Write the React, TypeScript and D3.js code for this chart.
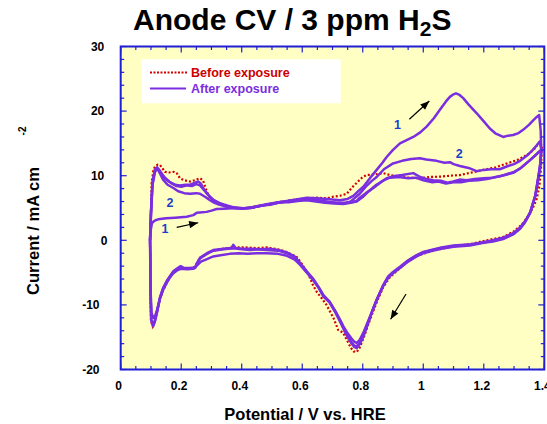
import React from "react";
import * as d3 from "d3";

type Pt = [number, number];

// Before exposure (red dotted)
const beforeAnodic: Pt[] = [[0.097,0],[0.1,4],[0.102,8.8],[0.108,10.8],[0.113,11.4],[0.122,11.7],[0.13,11.65],[0.14,11.0],[0.146,10.6],[0.16,10.5],[0.175,10.6],[0.185,10.4],[0.196,9.6],[0.21,9.3],[0.229,9.1],[0.245,9.3],[0.262,9.6],[0.272,9.3],[0.279,8.3],[0.29,6.9],[0.306,6.0],[0.32,5.6],[0.339,5.6],[0.361,5.2],[0.39,5.0],[0.42,5.0],[0.45,5.3],[0.48,5.5],[0.52,5.9],[0.55,6.1],[0.58,6.3],[0.615,6.5],[0.65,6.6],[0.68,6.5],[0.703,6.75],[0.725,6.9],[0.747,7.2],[0.765,8.2],[0.78,8.9],[0.8,9.8],[0.813,10.1],[0.84,10.2],[0.868,10.4],[0.89,10.1],[0.923,9.85],[0.95,9.7],[0.989,9.6],[1.02,9.8],[1.055,9.85],[1.09,10.0],[1.121,10.1],[1.16,10.5],[1.198,10.9],[1.24,11.3],[1.276,11.9],[1.31,12.4],[1.342,13.2],[1.365,14.0],[1.386,15.3],[1.392,14.5]];
const beforeCathodic: Pt[] = [[1.392,14.5],[1.389,11],[1.384,8.5],[1.375,6.4],[1.362,5.0],[1.345,3.6],[1.325,2.4],[1.3,1.4],[1.264,0.5],[1.21,0],[1.154,-0.6],[1.1,-0.9],[1.033,-1.6],[0.978,-2.4],[0.95,-3.1],[0.923,-4.3],[0.89,-5.7],[0.868,-7.2],[0.846,-9.6],[0.824,-12.3],[0.802,-15.2],[0.79,-16.6],[0.78,-17.3],[0.77,-17.2],[0.76,-16.6],[0.747,-15.4],[0.735,-14.3],[0.719,-13.9],[0.703,-12.0],[0.68,-10.0],[0.665,-9.0],[0.648,-8.0],[0.635,-6.9],[0.62,-5.2],[0.598,-3.6],[0.582,-2.6],[0.549,-1.8],[0.52,-1.4],[0.482,-1.1],[0.45,-1.2],[0.41,-1.1],[0.372,-1.1],[0.34,-1.3],[0.306,-1.6],[0.28,-2.2],[0.262,-2.7],[0.246,-4.1],[0.22,-4.4],[0.196,-4.3],[0.174,-4.9],[0.16,-5.9],[0.152,-6.6],[0.14,-7.8],[0.13,-9.0],[0.12,-11.0],[0.113,-12.4],[0.106,-13.3],[0.1,-12.5],[0.098,-8],[0.097,0]];

// After exposure (purple), anodic sweeps of cycles 1..4
const afterAnodic1: Pt[] = [[0.097,0],[0.099,1.5],[0.103,2.6],[0.108,2.9],[0.115,3.1],[0.124,3.25],[0.15,3.4],[0.18,3.5],[0.218,3.65],[0.24,3.9],[0.251,4.25],[0.262,4.3],[0.284,4.4],[0.3,4.6],[0.317,4.85],[0.34,4.9],[0.372,4.95],[0.4,4.95],[0.427,5.0],[0.455,5.3],[0.482,5.6],[0.52,5.9],[0.549,6.1],[0.58,6.3],[0.615,6.6],[0.65,6.5],[0.681,6.4],[0.7,6.3],[0.725,6.2],[0.75,6.4],[0.77,6.9],[0.785,7.6],[0.802,8.3],[0.825,9.7],[0.846,10.9],[0.865,12.0],[0.879,12.9],[0.9,14.0],[0.923,15.0],[0.945,15.5],[0.967,16.0],[0.99,16.7],[1.011,17.6],[1.035,18.9],[1.055,20.2],[1.075,21.5],[1.088,22.2],[1.1,22.6],[1.108,22.75],[1.12,22.5],[1.132,22.0],[1.15,21.0],[1.176,19.7],[1.2,18.4],[1.22,17.3],[1.24,16.5],[1.264,16.0],[1.28,16.2],[1.297,16.3],[1.315,16.6],[1.33,17.1],[1.35,17.9],[1.364,18.6],[1.375,19.1],[1.383,19.4],[1.388,17],[1.39,14]];
const afterAnodic2: Pt[] = [[0.097,0],[0.1,4],[0.105,8.5],[0.113,10.5],[0.12,11.2],[0.128,10.5],[0.14,9.4],[0.155,8.6],[0.174,8.1],[0.19,7.6],[0.21,7.3],[0.229,7.2],[0.25,7.3],[0.262,7.2],[0.28,6.7],[0.295,6.2],[0.31,5.8],[0.328,5.5],[0.35,5.2],[0.38,5.0],[0.41,4.95],[0.44,5.1],[0.482,5.5],[0.52,5.8],[0.549,6.0],[0.58,6.3],[0.61,6.4],[0.64,6.3],[0.681,6.0],[0.71,5.8],[0.74,5.7],[0.76,6.0],[0.775,6.6],[0.79,7.2],[0.81,8.3],[0.83,9.2],[0.846,9.8],[0.87,11.0],[0.9,11.9],[0.93,12.3],[0.96,12.6],[0.989,12.7],[1.01,12.5],[1.044,12.3],[1.07,12.0],[1.088,12.1],[1.1,11.8],[1.121,11.5],[1.15,11.2],[1.176,10.7],[1.2,10.9],[1.225,11.0],[1.253,11.0],[1.28,11.5],[1.3,11.8],[1.32,12.3],[1.345,13.2],[1.362,14.0],[1.375,14.7],[1.385,15.3],[1.39,14]];
const afterAnodic3: Pt[] = [[0.097,0],[0.1,4],[0.105,8.8],[0.113,10.8],[0.12,11.3],[0.126,11.0],[0.135,10.4],[0.146,9.7],[0.16,9.1],[0.18,8.6],[0.196,8.5],[0.215,8.6],[0.23,8.6],[0.24,8.8],[0.256,9.1],[0.265,8.8],[0.273,8.05],[0.285,7.3],[0.295,6.7],[0.31,6.1],[0.328,5.7],[0.35,5.3],[0.372,5.0],[0.4,4.9],[0.43,5.0],[0.46,5.3],[0.49,5.6],[0.52,5.8],[0.55,6.0],[0.58,6.2],[0.615,6.4],[0.65,6.1],[0.68,5.9],[0.71,5.8],[0.74,5.8],[0.76,5.9],[0.78,6.1],[0.79,6.6],[0.81,7.3],[0.835,8.1],[0.86,9.0],[0.879,9.6],[0.9,9.9],[0.93,10.1],[0.967,10.4],[0.99,9.8],[1.01,9.5],[1.033,9.3],[1.06,9.2],[1.08,8.9],[1.099,9.1],[1.12,9.4],[1.143,9.3],[1.17,9.5],[1.2,9.6],[1.23,9.7],[1.253,9.9],[1.28,10.3],[1.3,10.6],[1.32,11.1],[1.345,12.1],[1.364,12.9],[1.38,13.6],[1.39,14]];
const afterAnodic4: Pt[] = [[0.097,0],[0.1,4.5],[0.105,9.0],[0.113,10.9],[0.119,11.1],[0.126,10.8],[0.137,10.1],[0.15,9.4],[0.165,8.9],[0.185,8.4],[0.2,8.3],[0.22,8.5],[0.235,8.4],[0.25,8.7],[0.262,8.5],[0.275,7.8],[0.29,7.0],[0.305,6.3],[0.325,5.8],[0.35,5.4],[0.375,5.1],[0.405,4.95],[0.435,5.1],[0.465,5.4],[0.495,5.5],[0.525,5.9],[0.555,5.9],[0.585,6.1],[0.615,6.2],[0.645,6.0],[0.675,5.8],[0.705,5.7],[0.735,5.6],[0.76,5.8],[0.78,6.0],[0.8,6.7],[0.82,7.6],[0.845,8.6],[0.87,9.3],[0.89,9.7],[0.92,9.8],[0.95,9.6],[0.975,9.7],[1.0,9.3],[1.03,9.0],[1.05,9.1],[1.075,8.8],[1.1,9.0],[1.125,9.0],[1.15,9.2],[1.18,9.3],[1.21,9.5],[1.24,9.8],[1.27,10.1],[1.3,10.5],[1.325,11.3],[1.35,12.3],[1.37,13.1],[1.385,13.8],[1.39,14]];

// After exposure (purple), cathodic sweeps
const afterCathodicA: Pt[] = [[1.39,14],[1.386,11.5],[1.38,9.8],[1.37,6.9],[1.353,4.3],[1.335,2.8],[1.32,1.9],[1.297,1.0],[1.264,0.3],[1.23,-0.1],[1.2,-0.3],[1.154,-0.7],[1.1,-0.9],[1.06,-1.2],[1.033,-1.5],[1.0,-1.9],[0.978,-2.4],[0.95,-3.2],[0.923,-4.2],[0.9,-5.0],[0.884,-5.7],[0.868,-7.0],[0.846,-9.3],[0.835,-10.5],[0.824,-12.0],[0.812,-13.6],[0.802,-14.9],[0.79,-16.1],[0.78,-16.7],[0.772,-16.5],[0.763,-16.0],[0.75,-15.0],[0.738,-13.9],[0.725,-12.6],[0.71,-11.2],[0.69,-9.6],[0.67,-8.7],[0.655,-7.4],[0.637,-6.15],[0.615,-4.9],[0.593,-3.6],[0.575,-2.6],[0.55,-2.0],[0.52,-1.6],[0.482,-1.5],[0.45,-1.4],[0.427,-1.5],[0.4,-1.4],[0.372,-1.25],[0.34,-1.4],[0.306,-1.6],[0.285,-2.1],[0.262,-2.8],[0.25,-3.8],[0.246,-4.3],[0.23,-4.4],[0.21,-4.4],[0.196,-4.2],[0.185,-4.5],[0.174,-4.9],[0.162,-5.7],[0.152,-6.4],[0.14,-7.5],[0.13,-8.9],[0.12,-11.2],[0.113,-12.6],[0.107,-13.3],[0.101,-12.4],[0.099,-9],[0.098,-2],[0.097,0]];
const afterCathodicB: Pt[] = [[1.39,14],[1.386,11.2],[1.38,9.5],[1.37,6.8],[1.353,4.2],[1.335,2.7],[1.32,1.8],[1.297,0.9],[1.264,0.2],[1.23,-0.2],[1.2,-0.4],[1.154,-0.8],[1.1,-1.0],[1.06,-1.3],[1.033,-1.6],[1.0,-2.0],[0.978,-2.5],[0.95,-3.3],[0.923,-4.3],[0.9,-5.1],[0.884,-5.8],[0.868,-7.0],[0.846,-9.2],[0.824,-11.8],[0.802,-14.3],[0.79,-15.4],[0.78,-15.9],[0.772,-15.7],[0.763,-15.2],[0.75,-14.4],[0.738,-13.5],[0.725,-12.3],[0.71,-11.0],[0.69,-9.5],[0.67,-8.6],[0.655,-7.4],[0.637,-6.2],[0.615,-5.0],[0.593,-3.8],[0.575,-3.0],[0.55,-2.4],[0.52,-2.1],[0.482,-2.0],[0.45,-2.0],[0.42,-2.1],[0.39,-2.0],[0.36,-2.1],[0.33,-2.3],[0.306,-2.5],[0.285,-2.9],[0.265,-3.3],[0.25,-4.0],[0.24,-4.4],[0.22,-4.5],[0.2,-4.4],[0.185,-4.7],[0.174,-5.1],[0.162,-5.8],[0.152,-6.6],[0.14,-7.7],[0.13,-9.0],[0.12,-10.8],[0.113,-11.8],[0.108,-12.0],[0.102,-11.3],[0.099,-8],[0.097,-1],[0.097,0]];
const afterCathodicC: Pt[] = [[1.39,14],[1.387,12],[1.381,9.9],[1.371,7.0],[1.355,4.5],[1.338,3.0],[1.32,2.0],[1.297,1.1],[1.264,0.4],[1.23,0.0],[1.2,-0.3],[1.16,-0.6],[1.1,-0.8],[1.06,-1.1],[1.033,-1.4],[1.0,-1.8],[0.978,-2.3],[0.95,-3.1],[0.923,-4.1],[0.9,-4.9],[0.884,-5.6],[0.868,-6.9],[0.846,-9.2],[0.824,-11.9],[0.812,-13.5],[0.802,-14.7],[0.79,-15.9],[0.78,-16.4],[0.772,-16.3],[0.763,-15.8],[0.75,-14.8],[0.738,-13.7],[0.725,-12.4],[0.71,-11.1],[0.69,-9.5],[0.67,-8.5],[0.655,-7.3],[0.637,-6.0],[0.615,-4.8],[0.593,-3.5],[0.575,-2.5],[0.55,-1.9],[0.52,-1.5],[0.49,-1.3],[0.46,-1.4],[0.43,-1.3],[0.4,-1.3],[0.38,-1.2],[0.372,-0.7],[0.366,-1.2],[0.34,-1.3],[0.306,-1.5],[0.285,-2.0],[0.262,-2.7],[0.25,-3.7],[0.246,-4.2],[0.23,-4.3],[0.21,-4.3],[0.198,-4.0],[0.185,-4.4],[0.174,-4.8],[0.162,-5.6],[0.152,-6.3],[0.14,-7.4],[0.13,-8.8],[0.12,-11.0],[0.113,-12.4],[0.107,-13.2],[0.101,-12.3],[0.099,-9],[0.098,-2],[0.097,0]];

const xTicks = [0, 0.2, 0.4, 0.6, 0.8, 1, 1.2, 1.4];
const xTickLabels = ["0", "0.2", "0.4", "0.6", "0.8", "1", "1.2", "1.4"];
const yTicks = [-20, -10, 0, 10, 20, 30];
const yTickLabels = ["-20", "-10", "0", "10", "20", "30"];

const legendLabels = ["Before exposure", "After exposure"];
// arrows in data units: [V0, I0, V1, I1]
const arrows: [number, number, number, number][] = [
  [0.954, 18.73, 1.02, 21.56],
  [0.185, 2.01, 0.256, 2.72],
  [0.943, -8.31, 0.892, -12.23],
];
const cycleLabels: [string, number, number][] = [
  ["1", 0.915, 17.85],
  ["2", 1.119, 13.47],
  ["1", 0.146, 1.75],
  ["2", 0.163, 5.88],
];

const W = 547, H = 424;
const L = 120.7, R = 544.3, T = 46.5, B = 369.5;
const FRAME = "#1f1fd6";
const PURPLE = "#7a2ee0";
const RED = "#d20000";
const FONT = "Arial, 'Liberation Sans', Helvetica, sans-serif";

export default function App() {
  const x = d3.scaleLinear().domain([0, 1.4]).range([L, R]);
  const y = d3.scaleLinear().domain([-20, 30]).range([B, T]);
  const line = d3.line<Pt>().x((d) => x(d[0])).y((d) => y(d[1])).curve(d3.curveLinear);

  const xMinor = d3.range(0, 1.4001, 0.05);
  const yMinor = d3.range(-20, 30.001, 2);

  const purpleCurves = [afterCathodicB, afterCathodicC, afterCathodicA, afterAnodic4, afterAnodic3, afterAnodic2, afterAnodic1];

  const arrowHead = (x0: number, y0: number, x1: number, y1: number) => {
    const ang = Math.atan2(y1 - y0, x1 - x0);
    const len = 9, half = 3.6;
    const bx = x1 - len * Math.cos(ang), by = y1 - len * Math.sin(ang);
    const px = -Math.sin(ang) * half, py = Math.cos(ang) * half;
    return `M${x1},${y1}L${bx + px},${by + py}L${bx - px},${by - py}Z`;
  };

  return (
    <svg width={W} height={H} style={{ position: "absolute", left: 0, top: 0, background: "#fff" }} fontFamily={FONT}>
      <rect x={L} y={T} width={R - L} height={B - T} fill="#ffffc4" />

      {/* Title */}
      <text x={133} y={30} fontSize={30} fontWeight="bold" fill="#000">
        Anode CV / 3 ppm H<tspan fontSize={21} dy={6}>2</tspan><tspan dy={-6} fontSize={30}>S</tspan>
      </text>

      {/* curves */}
      <g fill="none">
        <path d={line(beforeAnodic) || ""} stroke={RED} strokeWidth={2.2} strokeDasharray="2,2" />
        <path d={line(beforeCathodic) || ""} stroke={RED} strokeWidth={2.2} strokeDasharray="2,2" />
        {purpleCurves.map((c, i) => (
          <path key={i} d={line(c) || ""} stroke={PURPLE} strokeWidth={2.5} strokeLinejoin="round" />
        ))}
      </g>

      {/* legend */}
      <rect x={141.7} y={59.3} width={199} height={44} fill="#fff" />
      <line x1={150} x2={187} y1={72.5} y2={72.5} stroke={RED} strokeWidth={2} strokeDasharray="2,1.5" />
      <text x={191} y={77} fontSize={12.5} fontWeight="bold" fill="#cc0000">{legendLabels[0]}</text>
      <line x1={150} x2={186} y1={88.5} y2={88.5} stroke={PURPLE} strokeWidth={2} />
      <text x={191} y={93} fontSize={12.5} fontWeight="bold" fill={PURPLE}>{legendLabels[1]}</text>

      {/* arrows */}
      {arrows.map((a, i) => {
        const x0 = x(a[0]), y0 = y(a[1]), x1 = x(a[2]), y1 = y(a[3]);
        return (
          <g key={i}>
            <line x1={x0} y1={y0} x2={x1} y2={y1} stroke="#000" strokeWidth={1.2} />
            <path d={arrowHead(x0, y0, x1, y1)} fill="#000" />
          </g>
        );
      })}

      {/* cycle labels */}
      {cycleLabels.map((c, i) => (
        <text key={i} x={x(c[1])} y={y(c[2]) + 4.5} fontSize={12.5} fontWeight="bold" fill="#1a3fcc" textAnchor="middle">{c[0]}</text>
      ))}

      {/* ticks */}
      <g stroke={FRAME} strokeWidth={1.2}>
        {xMinor.map((v, i) => {
          const major = i % 4 === 0;
          const len = major ? 6 : 3.5;
          return (
            <g key={"xm" + i}>
              <line x1={x(v)} x2={x(v)} y1={B} y2={B - len} />
              <line x1={x(v)} x2={x(v)} y1={T} y2={T + len} />
            </g>
          );
        })}
        {yMinor.map((v, i) => {
          const major = i % 5 === 0;
          const len = major ? 6 : 3.5;
          return (
            <g key={"ym" + i}>
              <line x1={L} x2={L + len} y1={y(v)} y2={y(v)} />
              <line x1={R} x2={R - len} y1={y(v)} y2={y(v)} />
            </g>
          );
        })}
      </g>
      <rect x={L} y={T} width={R - L} height={B - T} fill="none" stroke={FRAME} strokeWidth={2} />

      {/* tick labels */}
      {xTicks.map((v, i) => (
        <text key={"xl" + i} x={x(v) - 2} y={389.5} fontSize={12} fontWeight="bold" textAnchor="middle" fill="#000">{xTickLabels[i]}</text>
      ))}
      {yTicks.map((v, i) => (
        <text key={"yl" + i} x={v === 0 ? 107.5 : v > 0 ? 104.3 : 99.5} y={y(v) + 4.3} fontSize={12} fontWeight="bold" textAnchor="end" fill="#000">{yTickLabels[i]}</text>
      ))}

      {/* axis titles */}
      <text x={305} y={420} fontSize={16.5} fontWeight="bold" textAnchor="middle" fill="#000">Potential / V vs. HRE</text>
      <text transform="translate(38.5,231) rotate(-90)" fontSize={16.5} fontWeight="bold" textAnchor="middle" fill="#000">Current / mA cm</text>
      <text transform="translate(26,131) rotate(-90)" fontSize={10} fontWeight="bold" textAnchor="middle" fill="#000">-2</text>
    </svg>
  );
}
